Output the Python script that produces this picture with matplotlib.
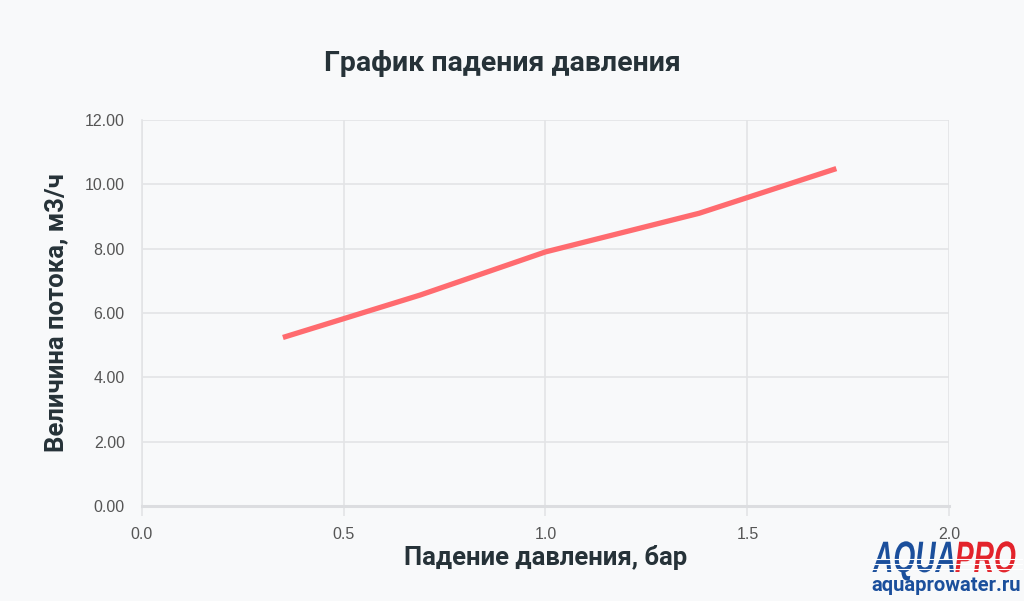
import matplotlib.pyplot as plt
from matplotlib.lines import Line2D
from matplotlib.textpath import TextPath
from matplotlib.patches import PathPatch
from matplotlib.font_manager import FontProperties
from matplotlib.transforms import Affine2D

# данные графика
padenie = [0.35, 0.69, 1.0, 1.38, 1.72]
potok = [5.24, 6.56, 7.9, 9.1, 10.49]
xticks = [0.0, 0.5, 1.0, 1.5, 2.0]
yticks = [0, 2, 4, 6, 8, 10, 12]

bg = '#f8f9fa'
grid = '#e3e4e6'
dark = '#263238'
W, H = 1024, 601

fig = plt.figure(figsize=(10.24, 6.01), dpi=100, facecolor=bg)
ax = fig.add_axes([0.1382, 0.158, 0.789, 0.6423], facecolor=bg)

ax.plot(padenie, potok, color='#ff6b6f', lw=3.8, solid_capstyle='butt', zorder=3)

ax.set_xlim(0, 2.0)
ax.set_ylim(0, 12)
ax.set_xticks(xticks)
ax.set_yticks(yticks)
ax.set_xticklabels(['%.1f' % v for v in xticks])
ax.set_yticklabels(['%.2f' % v for v in yticks])
ax.grid(True, color=grid, lw=1.2)
ax.set_axisbelow(True)
for s in ['top', 'right']:
    ax.spines[s].set_visible(False)
ax.spines['left'].set_color(grid)
ax.spines['left'].set_linewidth(1.2)
ax.spines['bottom'].set_color('#dcdde0')
ax.spines['bottom'].set_linewidth(2.2)
ax.tick_params(axis='x', length=7, color=grid, width=1.2, pad=8,
               labelsize=11.5, labelcolor='#555555')
ax.tick_params(axis='y', length=0, pad=12, labelsize=11.5, labelcolor='#555555')
for t in ax.get_xticklabels() + ax.get_yticklabels():
    t.set_family('Liberation Sans')

ax.set_xlabel('Падение давления, бар', fontsize=18.5, fontweight='bold',
              color=dark, family='Roboto', labelpad=2)
ax.set_ylabel('Величина потока, м3/ч', fontsize=18.5, fontweight='bold',
              color=dark, family='Roboto', labelpad=12)
fig.text(0.491, 0.895, 'График падения давления', ha='center', va='center',
         fontsize=20.5, fontweight='bold', color=dark, family='Roboto')

# логотип (узкий наклонный шрифт через TextPath)
fp = FontProperties(family='Liberation Sans', weight='bold', style='italic')
sx = 0.64
x0 = 873
for word, col in [('AQUA', '#1b4f9c'), ('PRO', '#e3232b')]:
    tp = TextPath((0, 0), word, size=44, prop=fp)
    tr = Affine2D().scale(sx / W, 1 / H).translate(x0 / W, (H - 572) / H) + fig.transFigure
    fig.add_artist(PathPatch(tp, transform=tr, color=col, lw=0, zorder=5))
    x0 += tp.get_extents().x1 * sx + 1
for yy in [559, 564, 569]:
    fig.add_artist(Line2D([872 / W, 1022 / W], [(H - yy) / H] * 2,
                          color='white', lw=0.8, zorder=6))
fig.text(0.851, 0.017, 'aquaprowater.ru', fontsize=14.5, fontweight='bold',
         color='#1b4f9c', family='Roboto', va='baseline', zorder=5)

fig.savefig('out.png', dpi=100, facecolor=bg)
